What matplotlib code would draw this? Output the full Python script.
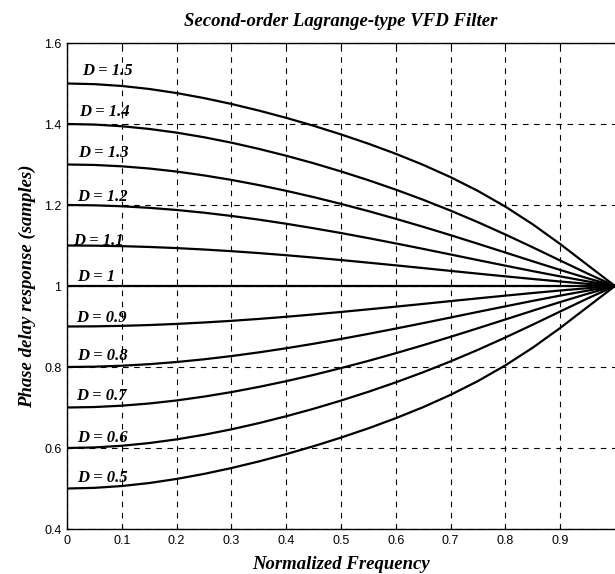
import matplotlib
matplotlib.use("Agg")
import matplotlib.pyplot as plt

# Normalized frequency sample points
freq = [0.0, 0.05, 0.1, 0.15, 0.2, 0.25, 0.3, 0.35, 0.4, 0.45, 0.5,
        0.55, 0.6, 0.65, 0.7, 0.75, 0.8, 0.85, 0.9, 0.95, 1.0]

# Phase delay curves (samples)
D15 = [1.5, 1.4984, 1.4939, 1.4865, 1.4764, 1.4640, 1.4495, 1.4332, 1.4152, 1.3956, 1.3743,
       1.3514, 1.3264, 1.2991, 1.2687, 1.2346, 1.1959, 1.1522, 1.1036, 1.0517, 1.0]
D14 = [1.4, 1.3986, 1.3945, 1.3878, 1.3787, 1.3673, 1.3539, 1.3386, 1.3216, 1.3031, 1.2829,
       1.2612, 1.2379, 1.2129, 1.1861, 1.1575, 1.1271, 1.0954, 1.0629, 1.0307, 1.0]
D13 = [1.3, 1.2989, 1.2955, 1.2901, 1.2826, 1.2731, 1.2620, 1.2492, 1.2350, 1.2195, 1.2027,
       1.1849, 1.1659, 1.1461, 1.1255, 1.1042, 1.0826, 1.0609, 1.0396, 1.0191, 1.0]
D12 = [1.2, 1.1992, 1.1969, 1.1930, 1.1877, 1.1810, 1.1730, 1.1639, 1.1537, 1.1426, 1.1308,
       1.1182, 1.1051, 1.0916, 1.0778, 1.0639, 1.0502, 1.0367, 1.0237, 1.0114, 1.0]
D11 = [1.1, 1.0996, 1.0984, 1.0964, 1.0936, 1.0901, 1.0860, 1.0813, 1.0760, 1.0702, 1.0641,
       1.0576, 1.0510, 1.0442, 1.0373, 1.0305, 1.0238, 1.0173, 1.0111, 1.0053, 1.0]
D10 = [1.0] * 21
D09 = [0.9, 0.9004, 0.9016, 0.9036, 0.9064, 0.9099, 0.9140, 0.9187, 0.9240, 0.9298, 0.9359,
       0.9424, 0.9490, 0.9558, 0.9627, 0.9695, 0.9762, 0.9827, 0.9889, 0.9947, 1.0]
D08 = [0.8, 0.8008, 0.8031, 0.8070, 0.8123, 0.8190, 0.8270, 0.8361, 0.8463, 0.8574, 0.8692,
       0.8818, 0.8949, 0.9084, 0.9222, 0.9361, 0.9498, 0.9633, 0.9763, 0.9886, 1.0]
D07 = [0.7, 0.7011, 0.7045, 0.7099, 0.7174, 0.7269, 0.7380, 0.7508, 0.7650, 0.7805, 0.7973,
       0.8151, 0.8341, 0.8539, 0.8745, 0.8958, 0.9174, 0.9391, 0.9604, 0.9809, 1.0]
D06 = [0.6, 0.6014, 0.6055, 0.6122, 0.6213, 0.6327, 0.6461, 0.6614, 0.6784, 0.6969, 0.7171,
       0.7388, 0.7621, 0.7871, 0.8139, 0.8425, 0.8729, 0.9046, 0.9371, 0.9693, 1.0]
D05 = [0.5, 0.5016, 0.5061, 0.5135, 0.5236, 0.5360, 0.5505, 0.5668, 0.5848, 0.6044, 0.6257,
       0.6486, 0.6736, 0.7009, 0.7313, 0.7654, 0.8041, 0.8478, 0.8964, 0.9483, 1.0]

curves = [D15, D14, D13, D12, D11, D10, D09, D08, D07, D06, D05]
labels = ["D = 1.5", "D = 1.4", "D = 1.3", "D = 1.2", "D = 1.1", "D = 1",
          "D = 0.9", "D = 0.8", "D = 0.7", "D = 0.6", "D = 0.5"]
label_x = [0.027, 0.022, 0.020, 0.018, 0.011, 0.018, 0.016, 0.018, 0.016, 0.018, 0.018]
label_y = [1.531, 1.429, 1.328, 1.219, 1.110, 1.021, 0.922, 0.828, 0.729, 0.625, 0.526]

xticks = [0, 0.1, 0.2, 0.3, 0.4, 0.5, 0.6, 0.7, 0.8, 0.9]
xticklabels = ["0", "0.1", "0.2", "0.3", "0.4", "0.5", "0.6", "0.7", "0.8", "0.9"]
yticks = [0.4, 0.6, 0.8, 1.0, 1.2, 1.4, 1.6]
yticklabels = ["0.4", "0.6", "0.8", "1", "1.2", "1.4", "1.6"]

fig = plt.figure(figsize=(6.15, 5.74), dpi=100)
ax = fig.add_axes([67/615, 1 - 529/574, 548/615, (529 - 43)/574])

serif = ["Liberation Serif", "DejaVu Serif"]
sans = ["Liberation Sans", "DejaVu Sans"]

for y in curves:
    ax.plot(freq, y, color="black", lw=1.6, solid_capstyle="round",
            solid_joinstyle="round", zorder=3)

for t, x, y in zip(labels, label_x, label_y):
    ax.text(x, y, t, family=serif, style="italic", weight="bold", fontsize=12,
            ha="left", va="center", zorder=4)

ax.set_xlim(0, 1)
ax.set_ylim(0.4, 1.6)
ax.set_xticks(xticks)
ax.set_xticklabels(xticklabels)
ax.set_yticks(yticks)
ax.set_yticklabels(yticklabels)
for lab in ax.get_xticklabels() + ax.get_yticklabels():
    lab.set_family(sans)
    lab.set_fontsize(9)
ax.tick_params(direction="in", length=3, width=0.8, pad=4, top=True, right=False)
ax.grid(True, color="black", linestyle=(0, (5, 5)), linewidth=0.8)
for s in ["left", "bottom", "top"]:
    ax.spines[s].set_linewidth(1.0)
ax.spines["right"].set_visible(False)

ax.set_title("Second-order Lagrange-type VFD Filter", family=serif, style="italic",
             weight="bold", fontsize=13.5, pad=12)
ax.set_xlabel("Normalized Frequency", family=serif, style="italic", weight="bold",
              fontsize=13.5, labelpad=7)
ax.set_ylabel("Phase delay response (samples)", family=serif, style="italic",
              weight="bold", fontsize=13.5, labelpad=6)

fig.savefig("out.png", dpi=100)
